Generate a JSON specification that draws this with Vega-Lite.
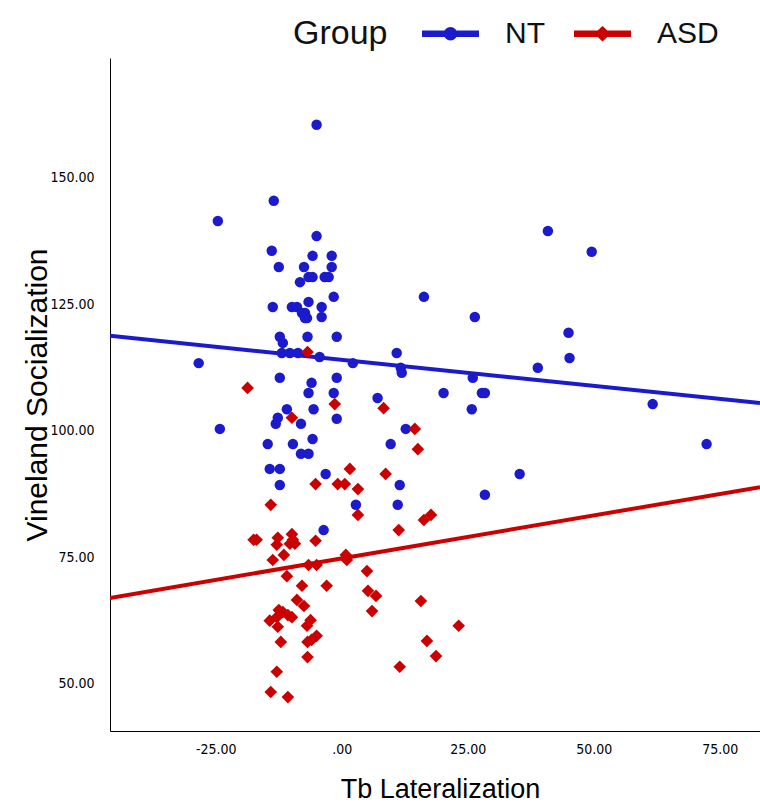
{
  "$schema": "https://vega.github.io/schema/vega-lite/v6.json",
  "width": 650,
  "height": 673,
  "autosize": {"type": "none"},
  "padding": {"left": 110, "top": 58, "right": 0, "bottom": 74},
  "background": "white",
  "config": {"view": {"stroke": null}, "font": "Liberation Sans"},
  "resolve": {"legend": {"color": "independent"}},
  "datasets": {
    "fits": [
      {"Group": "NT", "x": -46, "y": 118.8},
      {"Group": "NT", "x": 83, "y": 105.5},
      {"Group": "ASD", "x": -46, "y": 67.0},
      {"Group": "ASD", "x": 83, "y": 88.9}
    ],
    "points": [
      {"Group": "NT", "x": -5.0, "y": 160.5},
      {"Group": "NT", "x": -24.6, "y": 141.5},
      {"Group": "NT", "x": -13.5, "y": 145.5},
      {"Group": "NT", "x": 40.9, "y": 139.5},
      {"Group": "NT", "x": 49.6, "y": 135.4},
      {"Group": "NT", "x": -5.0, "y": 138.5},
      {"Group": "NT", "x": -13.9, "y": 135.6},
      {"Group": "NT", "x": -5.8, "y": 134.6},
      {"Group": "NT", "x": -2.0, "y": 134.6},
      {"Group": "NT", "x": -12.5, "y": 132.4},
      {"Group": "NT", "x": -7.5, "y": 132.4},
      {"Group": "NT", "x": -2.0, "y": 132.4},
      {"Group": "NT", "x": -6.6, "y": 130.4},
      {"Group": "NT", "x": -5.8, "y": 130.4},
      {"Group": "NT", "x": -3.4, "y": 130.4},
      {"Group": "NT", "x": -2.6, "y": 130.4},
      {"Group": "NT", "x": -8.3, "y": 129.4},
      {"Group": "NT", "x": -1.6, "y": 126.5},
      {"Group": "NT", "x": -13.7, "y": 124.5},
      {"Group": "NT", "x": -9.9, "y": 124.5},
      {"Group": "NT", "x": -8.9, "y": 124.5},
      {"Group": "NT", "x": -6.6, "y": 125.5},
      {"Group": "NT", "x": -4.0, "y": 124.5},
      {"Group": "NT", "x": -7.9, "y": 123.3},
      {"Group": "NT", "x": -7.3, "y": 123.3},
      {"Group": "NT", "x": -6.9, "y": 122.3},
      {"Group": "NT", "x": -7.3, "y": 122.3},
      {"Group": "NT", "x": -4.0, "y": 122.5},
      {"Group": "NT", "x": -12.3, "y": 118.6},
      {"Group": "NT", "x": -11.7, "y": 117.4},
      {"Group": "NT", "x": -6.8, "y": 118.6},
      {"Group": "NT", "x": -1.0, "y": 118.6},
      {"Group": "NT", "x": -11.9, "y": 115.4},
      {"Group": "NT", "x": -10.3, "y": 115.4},
      {"Group": "NT", "x": -8.7, "y": 115.4},
      {"Group": "NT", "x": -4.4, "y": 114.6},
      {"Group": "NT", "x": 2.2, "y": 113.4},
      {"Group": "NT", "x": -28.4, "y": 113.4},
      {"Group": "NT", "x": -12.3, "y": 110.5},
      {"Group": "NT", "x": -6.0, "y": 109.5},
      {"Group": "NT", "x": -1.0, "y": 110.5},
      {"Group": "NT", "x": -6.6, "y": 107.5},
      {"Group": "NT", "x": -1.6, "y": 107.5},
      {"Group": "NT", "x": 7.1, "y": 106.5},
      {"Group": "NT", "x": -10.9, "y": 104.3},
      {"Group": "NT", "x": -5.6, "y": 104.3},
      {"Group": "NT", "x": -12.7, "y": 102.6},
      {"Group": "NT", "x": -13.1, "y": 101.4},
      {"Group": "NT", "x": -8.1, "y": 101.4},
      {"Group": "NT", "x": -1.0, "y": 102.4},
      {"Group": "NT", "x": -24.2, "y": 100.4},
      {"Group": "NT", "x": -14.7, "y": 97.4},
      {"Group": "NT", "x": -9.7, "y": 97.4},
      {"Group": "NT", "x": -5.8, "y": 98.4},
      {"Group": "NT", "x": -8.1, "y": 95.5},
      {"Group": "NT", "x": -6.6, "y": 95.5},
      {"Group": "NT", "x": -14.3, "y": 92.5},
      {"Group": "NT", "x": -12.3, "y": 92.5},
      {"Group": "NT", "x": -3.2, "y": 91.5},
      {"Group": "NT", "x": -12.3, "y": 89.3},
      {"Group": "NT", "x": -3.6, "y": 80.4},
      {"Group": "NT", "x": 2.8, "y": 85.4},
      {"Group": "NT", "x": 16.3, "y": 126.5},
      {"Group": "NT", "x": 26.4, "y": 122.5},
      {"Group": "NT", "x": 45.0, "y": 119.4},
      {"Group": "NT", "x": 10.9, "y": 115.4},
      {"Group": "NT", "x": 45.2, "y": 114.4},
      {"Group": "NT", "x": 11.7, "y": 112.5},
      {"Group": "NT", "x": 11.9, "y": 111.5},
      {"Group": "NT", "x": 38.9, "y": 112.5},
      {"Group": "NT", "x": 26.0, "y": 110.5},
      {"Group": "NT", "x": 20.2, "y": 107.5},
      {"Group": "NT", "x": 27.8, "y": 107.5},
      {"Group": "NT", "x": 28.4, "y": 107.5},
      {"Group": "NT", "x": 25.8, "y": 104.3},
      {"Group": "NT", "x": 61.7, "y": 105.3},
      {"Group": "NT", "x": 72.4, "y": 97.4},
      {"Group": "NT", "x": 12.7, "y": 100.4},
      {"Group": "NT", "x": 9.7, "y": 97.4},
      {"Group": "NT", "x": 35.3, "y": 91.5},
      {"Group": "NT", "x": 28.4, "y": 87.4},
      {"Group": "NT", "x": 11.5, "y": 89.3},
      {"Group": "NT", "x": 11.1, "y": 85.4},
      {"Group": "ASD", "x": -18.7, "y": 108.5},
      {"Group": "ASD", "x": -6.8, "y": 115.6},
      {"Group": "ASD", "x": -1.4, "y": 105.3},
      {"Group": "ASD", "x": -9.9, "y": 102.6},
      {"Group": "ASD", "x": 8.3, "y": 104.5},
      {"Group": "ASD", "x": 14.5, "y": 100.4},
      {"Group": "ASD", "x": 15.1, "y": 96.4},
      {"Group": "ASD", "x": 1.6, "y": 92.5},
      {"Group": "ASD", "x": 8.7, "y": 91.5},
      {"Group": "ASD", "x": -5.2, "y": 89.5},
      {"Group": "ASD", "x": -0.8, "y": 89.5},
      {"Group": "ASD", "x": 0.6, "y": 89.5},
      {"Group": "ASD", "x": 3.2, "y": 88.5},
      {"Group": "ASD", "x": -14.1, "y": 85.4},
      {"Group": "ASD", "x": 3.2, "y": 83.4},
      {"Group": "ASD", "x": 17.7, "y": 83.4},
      {"Group": "ASD", "x": 16.3, "y": 82.4},
      {"Group": "ASD", "x": 11.3, "y": 80.4},
      {"Group": "ASD", "x": -17.5, "y": 78.5},
      {"Group": "ASD", "x": -16.9, "y": 78.5},
      {"Group": "ASD", "x": -12.7, "y": 78.9},
      {"Group": "ASD", "x": -12.9, "y": 77.5},
      {"Group": "ASD", "x": -9.9, "y": 79.6},
      {"Group": "ASD", "x": -10.3, "y": 77.7},
      {"Group": "ASD", "x": -9.3, "y": 77.7},
      {"Group": "ASD", "x": -9.7, "y": 78.5},
      {"Group": "ASD", "x": -5.2, "y": 78.3},
      {"Group": "ASD", "x": -13.7, "y": 74.5},
      {"Group": "ASD", "x": -11.5, "y": 75.5},
      {"Group": "ASD", "x": -10.9, "y": 71.3},
      {"Group": "ASD", "x": -6.6, "y": 73.5},
      {"Group": "ASD", "x": -5.0, "y": 73.5},
      {"Group": "ASD", "x": 0.8, "y": 75.5},
      {"Group": "ASD", "x": 1.0, "y": 74.5},
      {"Group": "ASD", "x": 5.0, "y": 72.3},
      {"Group": "ASD", "x": -7.9, "y": 69.4},
      {"Group": "ASD", "x": -3.0, "y": 69.4},
      {"Group": "ASD", "x": 5.2, "y": 68.4},
      {"Group": "ASD", "x": 6.8, "y": 67.4},
      {"Group": "ASD", "x": 6.0, "y": 64.4},
      {"Group": "ASD", "x": 15.7, "y": 66.4},
      {"Group": "ASD", "x": 23.2, "y": 61.5},
      {"Group": "ASD", "x": 16.9, "y": 58.5},
      {"Group": "ASD", "x": 18.7, "y": 55.5},
      {"Group": "ASD", "x": 11.5, "y": 53.4},
      {"Group": "ASD", "x": -8.9, "y": 66.6},
      {"Group": "ASD", "x": -7.5, "y": 65.4},
      {"Group": "ASD", "x": -12.5, "y": 64.6},
      {"Group": "ASD", "x": -11.7, "y": 64.2},
      {"Group": "ASD", "x": -10.7, "y": 63.6},
      {"Group": "ASD", "x": -9.9, "y": 63.2},
      {"Group": "ASD", "x": -12.9, "y": 63.2},
      {"Group": "ASD", "x": -14.3, "y": 62.5},
      {"Group": "ASD", "x": -12.7, "y": 61.3},
      {"Group": "ASD", "x": -6.2, "y": 62.6},
      {"Group": "ASD", "x": -6.9, "y": 61.5},
      {"Group": "ASD", "x": -5.0, "y": 59.5},
      {"Group": "ASD", "x": -6.0, "y": 58.7},
      {"Group": "ASD", "x": -6.8, "y": 58.3},
      {"Group": "ASD", "x": -12.1, "y": 58.3},
      {"Group": "ASD", "x": -6.8, "y": 55.3},
      {"Group": "ASD", "x": -12.9, "y": 52.4},
      {"Group": "ASD", "x": -14.1, "y": 48.4},
      {"Group": "ASD", "x": -10.7, "y": 47.4}
    ]
  },
  "layer": [
    {
      "data": {"name": "fits"},
      "mark": {"type": "line", "strokeWidth": 4, "clip": true},
      "encoding": {
        "x": {"field": "x", "type": "quantitative", "scale": {"domain": [-46, 83], "nice": false, "zero": false}},
        "y": {"field": "y", "type": "quantitative", "scale": {"domain": [40.7, 173.7], "nice": false, "zero": false}},
        "color": {"field": "Group", "type": "nominal", "scale": {"domain": ["NT", "ASD"], "range": ["#1b1bcd", "#cc0000"]}, "legend": null}
      }
    },
    {
      "data": {"name": "points"},
      "mark": {"type": "point", "filled": true, "opacity": 1, "strokeWidth": 0},
      "encoding": {
        "x": {
          "field": "x", "type": "quantitative",
          "scale": {"domain": [-46, 83], "nice": false, "zero": false},
          "axis": {
            "title": "Tb Lateralization",
            "values": [-25, 0, 25, 50, 75],
            "labelExpr": "datum.value === 0 ? '.00' : (datum.value < 0 ? '-' : '') + format(abs(datum.value), '.2f')",
            "grid": false, "ticks": false, "labelFlush": false,
            "domainColor": "#000", "domainWidth": 1,
            "labelFont": "DejaVu Sans Condensed, DejaVu Sans", "labelFontSize": 14, "labelColor": "#000", "labelPadding": 11,
            "titleFont": "Liberation Sans", "titleFontSize": 27, "titleFontWeight": "normal",
            "titleColor": "#000", "titleX": 330, "titleY": 66, "titleBaseline": "alphabetic"
          }
        },
        "y": {
          "field": "y", "type": "quantitative",
          "scale": {"domain": [40.7, 173.7], "nice": false, "zero": false},
          "axis": {
            "title": "Vineland Socialization",
            "values": [50, 75, 100, 125, 150],
            "labelExpr": "format(datum.value, '.2f')",
            "grid": false, "ticks": false,
            "domainColor": "#000", "domainWidth": 1,
            "labelFont": "DejaVu Sans Condensed, DejaVu Sans", "labelFontSize": 14, "labelColor": "#000", "labelPadding": 16,
            "titleFont": "Liberation Sans", "titleFontSize": 30, "titleFontWeight": "normal",
            "titleColor": "#000", "titleX": -64, "titleBaseline": "alphabetic"
          }
        },
        "color": {
          "field": "Group", "type": "nominal",
          "scale": {"domain": ["NT", "ASD"], "range": ["#1b1bcd", "#cc0000"]},
          "legend": {
            "orient": "none", "legendX": 183, "legendY": -53, "direction": "horizontal",
            "title": "Group", "titleOrient": "left", "titleAnchor": "middle", "titleBaseline": "middle",
            "titleFont": "Liberation Sans", "titleFontSize": 34,
            "titleFontWeight": "normal", "titleColor": "#111", "titlePadding": 34,
            "labelFont": "Liberation Sans", "labelFontSize": 30, "labelColor": "#111", "labelOffset": 26,
            "symbolSize": 3249, "symbolStrokeWidth": 0, "symbolOpacity": 1, "columnPadding": 29, "padding": 0,
            "encode": {
              "title": {"update": {"dy": {"value": 7}}},
              "symbols": {
                "update": {
                  "shape": {"signal": "datum.value === 'NT' ? 'M-1,-0.115H1V0.115H-1Z M-0.235,0A0.235,0.235,0,1,1,0.235,0A0.235,0.235,0,1,1,-0.235,0Z' : 'M-1,-0.115H1V0.115H-1Z M0,-0.27L0.29,0L0,0.27L-0.29,0Z'"}
                }
              }
            }
          }
        },
        "shape": {"field": "Group", "type": "nominal", "scale": {"domain": ["NT", "ASD"], "range": ["circle", "diamond"]}, "legend": null},
        "size": {"field": "Group", "type": "nominal", "scale": {"domain": ["NT", "ASD"], "range": [110, 160]}, "legend": null}
      }
    }
  ]
}
